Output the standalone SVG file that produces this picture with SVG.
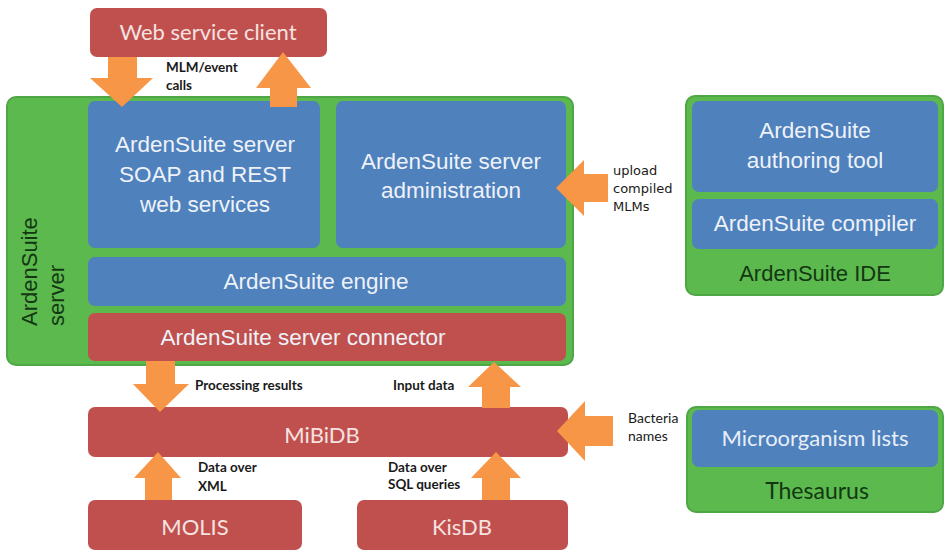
<svg xmlns="http://www.w3.org/2000/svg" width="944" height="552" viewBox="0 0 944 552">
<style>
.red{fill:#c0504d;}
.blue{fill:#4f81bd;}
.green{fill:#5cb94e;stroke:#4fa644;stroke-width:2;}
.arrow{fill:#f79646;}
.wt{font-family:"Liberation Sans",Arial,sans-serif;font-size:22.5px;fill:#eef2f8;text-anchor:middle;}
.ct{font-family:Lato,"Open Sans",sans-serif;font-size:22px;fill:#f5e2e1;text-anchor:middle;}
.cb{font-family:Lato,"Open Sans",sans-serif;font-size:22px;fill:#e8eef8;text-anchor:middle;}
.gt{font-family:"Liberation Sans",Arial,sans-serif;font-size:22px;fill:#123812;text-anchor:middle;}
.vt{font-family:"Liberation Sans",Arial,sans-serif;font-size:22px;fill:#123812;}
.lb{font-family:Lato,"Open Sans",sans-serif;font-size:13.5px;font-weight:bold;fill:#1a1a1a;}
.lr{font-family:Lato,"Open Sans",sans-serif;font-size:14px;fill:#1a1a1a;}
.ld{font-family:"DejaVu Sans",Verdana,sans-serif;font-size:13px;fill:#1a1a1a;}
</style>
<rect width="944" height="552" fill="#ffffff"/>

<g id="server">
<rect class="green" x="7" y="97" width="566" height="268" rx="9"/>
<text class="vt" transform="translate(37,326) rotate(-90)">ArdenSuite</text>
<text class="vt" transform="translate(64,326) rotate(-90)">server</text>
</g>
<g id="soap">
<rect class="blue" x="88" y="101" width="232" height="147" rx="7"/>
<text class="wt" x="205" y="152">ArdenSuite server</text>
<text class="wt" x="205" y="182">SOAP and REST</text>
<text class="wt" x="205" y="212">web services</text>
</g>
<g id="admin">
<rect class="blue" x="336" y="101" width="230" height="147" rx="7"/>
<text class="wt" x="451" y="169">ArdenSuite server</text>
<text class="wt" x="451" y="198">administration</text>
</g>
<g id="engine">
<rect class="blue" x="88" y="257" width="478" height="49" rx="7"/>
<text class="wt" x="316" y="289">ArdenSuite engine</text>
</g>
<g id="connector">
<rect class="red" x="88" y="313" width="478" height="48" rx="7"/>
<text class="wt" x="303" y="345">ArdenSuite server connector</text>
</g>

<g id="webclient">
<rect class="red" x="90" y="8" width="237" height="49" rx="7"/>
<text class="ct" x="208" y="40">Web service client</text>
</g>

<g id="ide">
<rect class="green" x="686" y="96" width="257" height="199" rx="9"/>
<text class="gt" x="815" y="281">ArdenSuite IDE</text>
</g>
<g id="authoring">
<rect class="blue" x="692" y="101" width="246" height="91" rx="7"/>
<text class="wt" x="815" y="138">ArdenSuite</text>
<text class="wt" x="815" y="168">authoring tool</text>
</g>
<g id="compiler">
<rect class="blue" x="692" y="199" width="246" height="50" rx="7"/>
<text class="wt" x="815" y="231">ArdenSuite compiler</text>
</g>

<g id="mibidb">
<rect class="red" x="88" y="407" width="480" height="50" rx="7"/>
<text class="ct" x="322" y="443">MiBiDB</text>
</g>
<g id="molis">
<rect class="red" x="88" y="500" width="214" height="50" rx="7"/>
<text class="ct" x="195" y="535">MOLIS</text>
</g>
<g id="kisdb">
<rect class="red" x="357" y="500" width="211" height="50" rx="7"/>
<text class="ct" x="462" y="535">KisDB</text>
</g>

<g id="thesaurus">
<rect class="green" x="687" y="407" width="256" height="105" rx="9"/>
<text class="gt" x="817" y="499" style="font-family:Lato,'Open Sans',sans-serif;font-size:23px">Thesaurus</text>
</g>
<g id="microlists">
<rect class="blue" x="692" y="410" width="246" height="57" rx="7"/>
<text class="cb" x="815" y="446">Microorganism lists</text>
</g>

<g id="connectors">
<polygon class="arrow" points="108,57 137,57 137,78 153,78 122,107 90,78 108,78"/>
<polygon class="arrow" points="270,107 297,107 297,88 311,88 283,52 256,88 270,88"/>
<polygon class="arrow" points="608,174 584,174 584,160 556,188 584,216 584,202 608,202"/>
<polygon class="arrow" points="146,361 175,361 175,384 189,384 160,412 133,384 146,384"/>
<polygon class="arrow" points="482,408 510,408 510,387 521,387 494,362 468,387 482,387"/>
<polygon class="arrow" points="613,416 585,416 585,401 557,431 585,461 585,446 613,446"/>
<polygon class="arrow" points="145,500 172,500 172,478 181,478 158,452 134,478 145,478"/>
<polygon class="arrow" points="482,500 510,500 510,478 521,478 496,452 471,478 482,478"/>
</g>

<g id="labels">
<text class="lb" x="166" y="72">MLM/event</text>
<text class="lb" x="166" y="90">calls</text>
<text class="ld" x="613" y="175">upload</text>
<text class="ld" x="613" y="193">compiled</text>
<text class="ld" x="613" y="211">MLMs</text>
<text class="lb" x="195" y="390">Processing results</text>
<text class="lb" x="393" y="390">Input data</text>
<text class="lr" x="628" y="423">Bacteria</text>
<text class="lr" x="628" y="441">names</text>
<text class="lb" x="198" y="472">Data over</text>
<text class="lb" x="198" y="491">XML</text>
<text class="lb" x="388" y="472">Data over</text>
<text class="lb" x="388" y="489">SQL queries</text>
</g>
</svg>
